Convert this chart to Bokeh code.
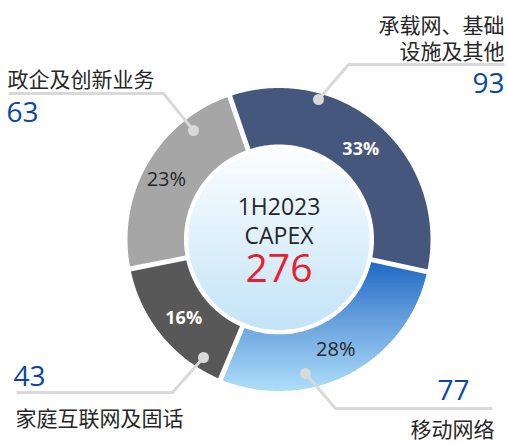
import numpy as np
from bokeh.plotting import figure
from bokeh.models import Range1d
from bokeh.core.properties import value
from bokeh.embed import file_html
from bokeh.resources import INLINE

# ---- data ----
categories = ["承载网、基础设施及其他", "移动网络", "家庭互联网及固话", "政企及创新业务"]
values = [93, 77, 43, 63]
pct_labels = ["33%", "28%", "16%", "23%"]
center_title = ["1H2023", "CAPEX"]
total_label = "276"

# ---- styles ----
seg_colors = ["#46577E", None, "#585858", "#A6A6A6"]
blue_stops = [(0.0, "#1B67C3"), (0.4, "#5D98DA"), (1.0, "#ADDEF8")]
circle_stops = [(0.0, "#FBFDFF"), (1.0, "#C3E4F7")]
CJK = value("Noto Sans CJK SC")
LAT = value("Open Sans")

cx, cy = 278.5, 239.0
R_OUT, R_IN, R_CIR = 151.5, 95.0, 90.5
START = -19.0  # degrees clockwise from top

p = figure(width=508, height=443, x_range=Range1d(0, 508), y_range=Range1d(443, 0),
           output_backend="svg", toolbar_location=None, min_border=0,
           x_axis_location=None, y_axis_location=None, outline_line_color=None,
           background_fill_color="white", border_fill_color="white")
p.grid.visible = False


def pt(r, a):
    t = np.radians(a)
    return cx + r * np.sin(t), cy - r * np.cos(t)


def wedge_poly(a0, a1, r0, r1, n=120):
    angs = np.linspace(a0, a1, n)
    xo, yo = pt(r1, angs)
    xi, yi = pt(r0, angs[::-1])
    return list(zip(np.r_[xo, xi], np.r_[yo, yi]))


def clip_half(poly, yb, keep_ge):
    out = []
    if not poly:
        return out
    def inside(q):
        return q[1] >= yb if keep_ge else q[1] <= yb
    for i in range(len(poly)):
        cur, prev = poly[i], poly[i - 1]
        ci, pi = inside(cur), inside(prev)
        if ci != pi:
            t = (yb - prev[1]) / (cur[1] - prev[1])
            out.append((prev[0] + t * (cur[0] - prev[0]), yb))
        if ci:
            out.append(cur)
    return out


def interp_color(stops, f):
    for (f0, c0), (f1, c1) in zip(stops[:-1], stops[1:]):
        if f <= f1:
            u = (f - f0) / (f1 - f0) if f1 > f0 else 0
            a = np.array([int(c0[i:i + 2], 16) for i in (1, 3, 5)])
            b = np.array([int(c1[i:i + 2], 16) for i in (1, 3, 5)])
            c = np.round(a + (b - a) * u).astype(int)
            return "#%02x%02x%02x" % tuple(c)
    return stops[-1][1]


def gradient_fill(poly, stops, nb=70):
    ys = [q[1] for q in poly]
    ymin, ymax = min(ys), max(ys)
    edges = np.linspace(ymin, ymax, nb + 1)
    xs_l, ys_l, cols = [], [], []
    for i in range(nb):
        y0, y1 = edges[i] - 0.6, edges[i + 1] + 0.6
        c = clip_half(poly, y0, True)
        c = clip_half(c, y1, False)
        if len(c) < 3:
            continue
        xs_l.append([q[0] for q in c])
        ys_l.append([q[1] for q in c])
        f = ((edges[i] + edges[i + 1]) / 2 - ymin) / (ymax - ymin)
        cols.append(interp_color(stops, f))
    p.patches(xs_l, ys_l, fill_color=cols, line_color=None)


total = sum(values)
spans = [v / total * 360 for v in values]
bounds = [START]
for s in spans:
    bounds.append(bounds[-1] + s)

for i in range(len(values)):
    poly = wedge_poly(bounds[i], bounds[i + 1], R_IN, R_OUT)
    if seg_colors[i] is None:
        gradient_fill(poly, blue_stops)
    else:
        p.patch([q[0] for q in poly], [q[1] for q in poly], fill_color=seg_colors[i], line_color=None)

# white separators
for b in bounds[:-1]:
    x0, y0 = pt(R_IN - 3, b)
    x1, y1 = pt(R_OUT + 3, b)
    p.line([x0, x1], [y0, y1], line_color="white", line_width=5)

# center circle with gradient
circ = wedge_poly(0, 360, 0, R_CIR, n=240)
circ = [q for q in circ if abs(q[0] - cx) > 1e-9 or abs(q[1] - cy) > 1e-9]
gradient_fill(circ, circle_stops, nb=80)

# percentage labels
pct_style = [("white", "bold", 18), ("#262626", "normal", 20), ("white", "bold", 18), ("#262626", "normal", 20)]
pct_r = 123
for i, lab in enumerate(pct_labels):
    mid = (bounds[i] + bounds[i + 1]) / 2
    x, y = pt(pct_r, mid)
    if i == 3:
        x -= 6
    col, wt, fs = pct_style[i]
    p.text([x], [y], text=[lab], text_align="center", text_baseline="middle",
           text_color=col, text_font_style=wt, text_font_size=f"{fs}px", text_font=LAT)

# center texts
p.text([cx, cx], [205, 234], text=center_title, text_align="center", text_baseline="middle",
       text_color="#262626", text_font_size="23px", text_font=LAT)
p.text([cx], [267], text=[total_label], text_align="center", text_baseline="middle",
       text_color="#EC1C2E", text_font_size="39px", text_font=LAT)

# leader lines
LC = "#D9D9D9"
leaders = [
    [(318, 99), (348, 64), (504, 64)],
    [(305, 373), (335, 408), (492, 408)],
    [(203, 357), (172, 392), (16, 392)],
    [(193, 130), (163, 93), (8, 93)],
]
for ld in leaders:
    p.line([q[0] for q in ld], [q[1] for q in ld], line_color=LC, line_width=3)
    p.scatter([ld[0][0]], [ld[0][1]], size=11, fill_color=LC, line_color=None)

NUM = "#0A45A8"
NFS = "28px"
LFS = "21px"
# top-right
p.text([504, 504], [23, 49], text=["承载网、基础", "设施及其他"], text_align="right", text_baseline="middle",
       text_color="#262626", text_font_size=LFS, text_font=CJK)
p.text([504], [82], text=[str(values[0])], text_align="right", text_baseline="middle",
       text_color=NUM, text_font_size=NFS, text_font=LAT)
# bottom-right
p.text([469], [389], text=[str(values[1])], text_align="right", text_baseline="middle",
       text_color=NUM, text_font_size=NFS, text_font=LAT)
p.text([494], [427], text=[categories[1]], text_align="right", text_baseline="middle",
       text_color="#262626", text_font_size=LFS, text_font=CJK)
# bottom-left
p.text([13], [375], text=[str(values[2])], text_align="left", text_baseline="middle",
       text_color=NUM, text_font_size=NFS, text_font=LAT)
p.text([15], [416], text=[categories[2]], text_align="left", text_baseline="middle",
       text_color="#262626", text_font_size=LFS, text_font=CJK)
# top-left
p.text([7], [77], text=[categories[3]], text_align="left", text_baseline="middle",
       text_color="#262626", text_font_size=LFS, text_font=CJK)
p.text([6], [111], text=[str(values[3])], text_align="left", text_baseline="middle",
       text_color=NUM, text_font_size=NFS, text_font=LAT)

open("out.html", "w").write(file_html(p, INLINE))
